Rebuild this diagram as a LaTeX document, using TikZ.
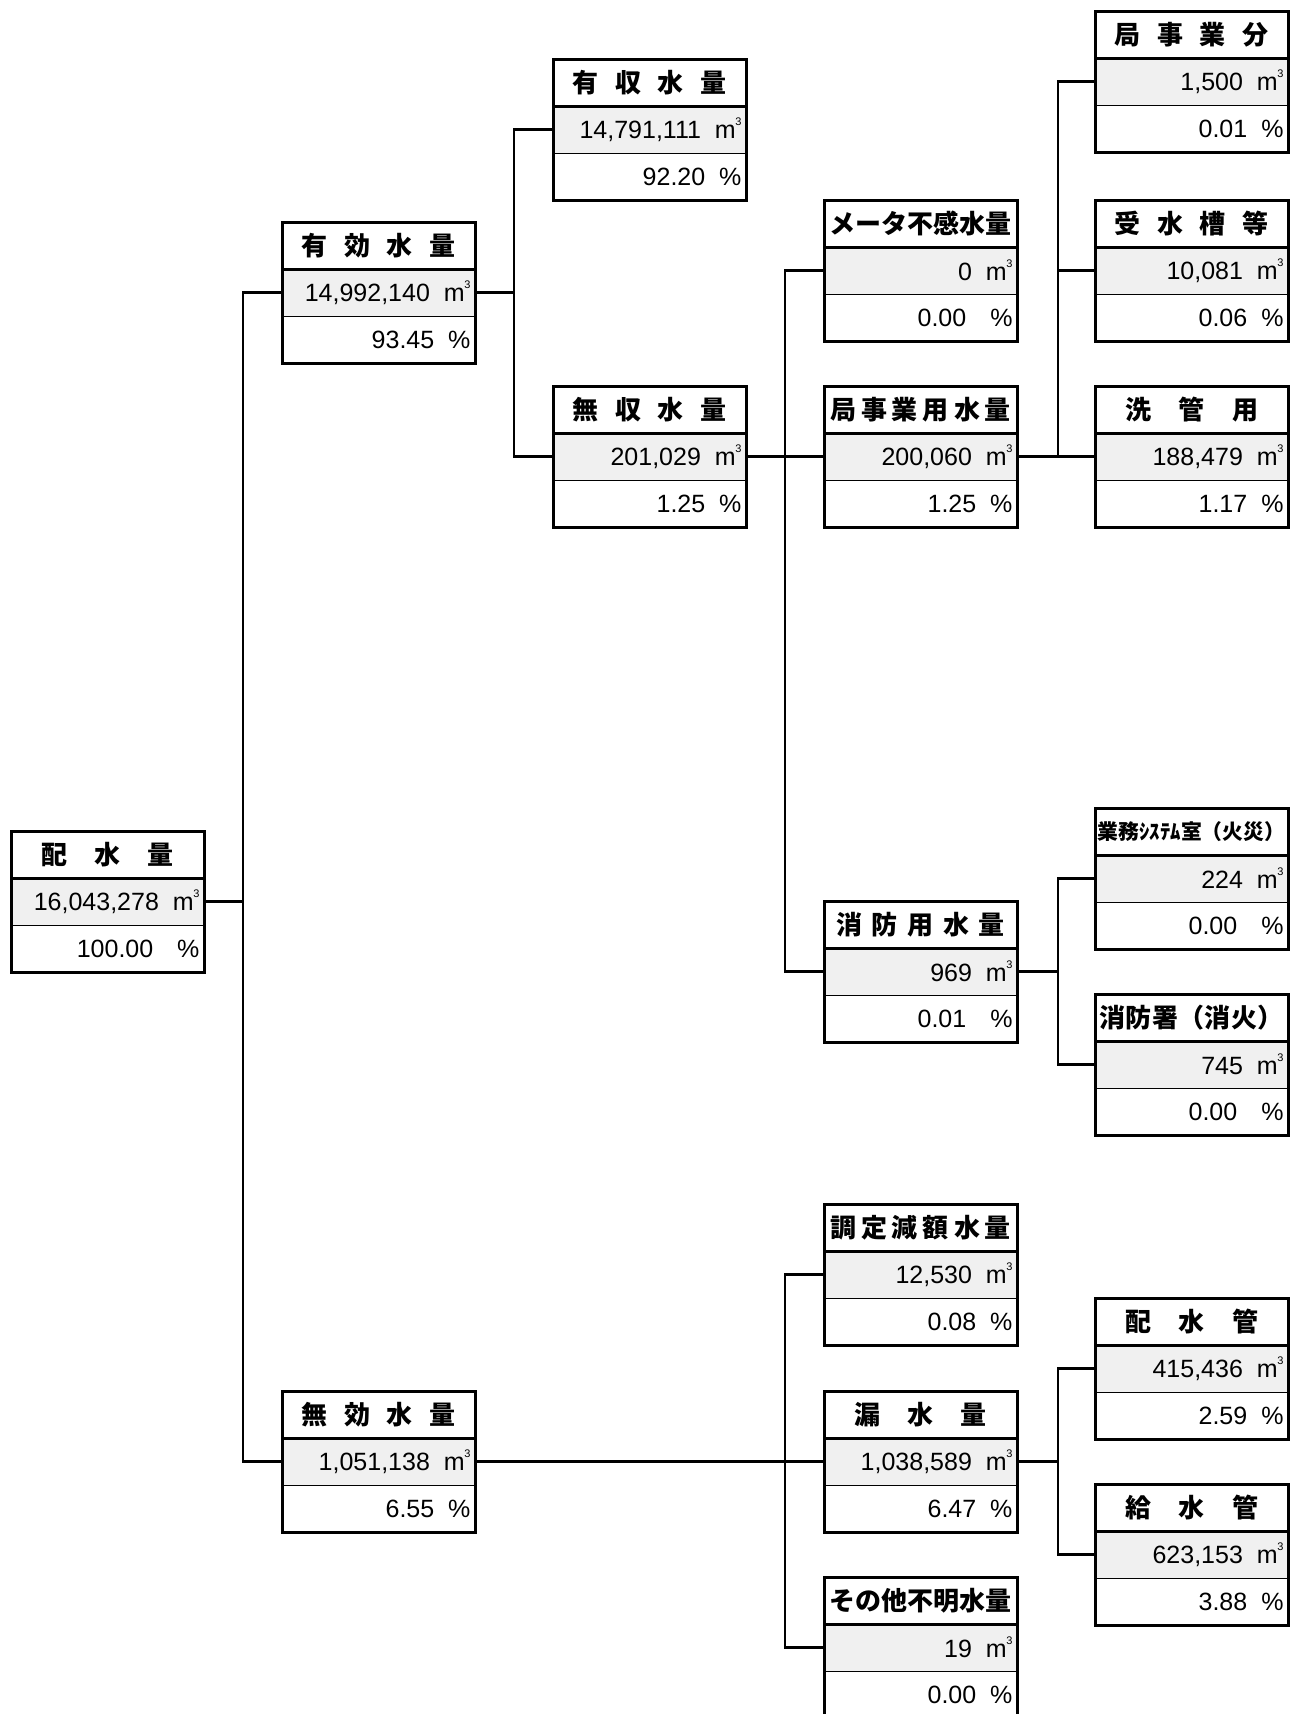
\documentclass[tikz,border=0pt]{standalone}
\usepackage{fontspec}
\setmainfont{Liberation Sans}
\newfontfamily\jpfont{Noto Sans CJK JP}
\usetikzlibrary{
    positioning
}

% one box: name, x, y, title, volume, percent
\newcommand{\waterbox}[6]{%
\node[ttl] (#1) at (#2,#3) {#4};
\node[val, below=0pt of #1] (#1-v) {#5\hspace{7pt}m\kern-0.2pt\raisebox{6.5pt}{\fontsize{5.5pt}{5.5pt}\selectfont 3}};
\node[pct, below=0pt of #1-v] (#1-p) {#6\hspace{7pt}\%\hspace{3pt}};
\draw[frame] (#1.north west) rectangle (#1-p.south east);
\draw[frame] (#1.south west) -- (#1.south east);
\draw[sep] (#1-v.south west) -- (#1-v.south east);
}

\begin{document}
\begin{tikzpicture}[
    x=0.5pt, y=-0.5pt,
    font=\fontsize{12.5pt}{14pt}\selectfont,
    cell/.style={
        minimum width=96.5pt,
        minimum height=23.5pt,
        inner sep=0pt,
        outer sep=0pt,
        anchor=north west
    },
    ttl/.style={
        cell,
        font=\jpfont\bfseries\fontsize{13pt}{15pt}\selectfont
    },
    val/.style={
        cell,
        fill=black!6,
        text width=92pt,
        inner xsep=2.25pt,
        align=right
    },
    pct/.style={
        cell,
        text width=92pt,
        inner xsep=2.25pt,
        align=right
    },
    frame/.style={line width=1.5pt},
    sep/.style={line width=0.5pt},
    link/.style={line width=1.2pt}
]

% Set bounding box to the page of the chart
\useasboundingbox (0,0) rectangle (1290,1714);

% ================= COLUMN 0 =================
\waterbox{haisui}{11}{831}{\makebox[66.5pt][s]{配\hfill 水\hfill 量}}{16,043,278}{100.00\hspace{5pt}}

% ================= COLUMN 1 =================
\waterbox{yuko}{282}{222}{\makebox[77pt][s]{有\hfill 効\hfill 水\hfill 量}}{14,992,140}{93.45}
\waterbox{muko}{282}{1391}{\makebox[77pt][s]{無\hfill 効\hfill 水\hfill 量}}{1,051,138}{6.55}

% ================= COLUMN 2 =================
\waterbox{yushu}{553}{59}{\makebox[77pt][s]{有\hfill 収\hfill 水\hfill 量}}{14,791,111}{92.20}
\waterbox{mushu}{553}{386}{\makebox[77pt][s]{無\hfill 収\hfill 水\hfill 量}}{201,029}{1.25}

% ================= COLUMN 3 =================
\waterbox{meter}{824}{200}{\makebox[91pt][s]{メ\hfill ー\hfill タ\hfill 不\hfill 感\hfill 水\hfill 量}}{0}{0.00\hspace{5pt}}
\waterbox{kyokuyo}{824}{386}{\makebox[90.5pt][s]{局\hfill 事\hfill 業\hfill 用\hfill 水\hfill 量}}{200,060}{1.25}
\waterbox{shobo}{824}{901}{\makebox[84pt][s]{消\hfill 防\hfill 用\hfill 水\hfill 量}}{969}{0.01\hspace{5pt}}
\waterbox{chotei}{824}{1204}{\makebox[90.5pt][s]{調\hfill 定\hfill 減\hfill 額\hfill 水\hfill 量}}{12,530}{0.08}
\waterbox{rosui}{824}{1391}{\makebox[66.5pt][s]{漏\hfill 水\hfill 量}}{1,038,589}{6.47}
\waterbox{sonota}{824}{1577}{\makebox[91pt][s]{そ\hfill の\hfill 他\hfill 不\hfill 明\hfill 水\hfill 量}}{19}{0.00}

% ================= COLUMN 4 =================
\waterbox{kyokubun}{1095}{11}{\makebox[77pt][s]{局\hfill 事\hfill 業\hfill 分}}{1,500}{0.01}
\waterbox{jusui}{1095}{200}{\makebox[77pt][s]{受\hfill 水\hfill 槽\hfill 等}}{10,081}{0.06}
\waterbox{senkan}{1095}{386}{\makebox[66.5pt][s]{洗\hfill 管\hfill 用}}{188,479}{1.17}
\waterbox{gyomu}{1095}{808}{\fontsize{10.4pt}{12pt}\selectfont 業務ｼｽﾃﾑ室（火災）}{224}{0.00\hspace{5pt}}
\waterbox{shobosho}{1095}{994}{\makebox[92pt][s]{消\hfill 防\hfill 署\hfill（消\hfill 火\hfill）}}{745}{0.00\hspace{5pt}}
\waterbox{haisuikan}{1095}{1298}{\makebox[66.5pt][s]{配\hfill 水\hfill 管}}{415,436}{2.59}
\waterbox{kyusuikan}{1095}{1484}{\makebox[66.5pt][s]{給\hfill 水\hfill 管}}{623,153}{3.88}

% ================= CONNECTORS =================
% ---- total
\draw[link] (yuko-v.west) -- ++(-39,0) |- (haisui-v.east);
\draw[link] (muko-v.west) -- ++(-39,0) |- (haisui-v.east);

% ---- effective
\draw[link] (yushu-v.west) -- ++(-39,0) |- (yuko-v.east);
\draw[link] (mushu-v.west) -- ++(-39,0) |- (yuko-v.east);

% ---- non-revenue
\draw[link] (meter-v.west) -- ++(-39,0) |- (mushu-v.east);
\draw[link] (kyokuyo-v.west) -- ++(-39,0) |- (mushu-v.east);
\draw[link] (shobo-v.west) -- ++(-39,0) |- (mushu-v.east);

% ---- ineffective
\draw[link] (chotei-v.west) -- ++(-39,0) |- (muko-v.east);
\draw[link] (rosui-v.west) -- ++(-39,0) |- (muko-v.east);
\draw[link] (sonota-v.west) -- ++(-39,0) |- (muko-v.east);

% ---- bureau use
\draw[link] (kyokubun-v.west) -- ++(-37,0) |- (kyokuyo-v.east);
\draw[link] (jusui-v.west) -- ++(-37,0) |- (kyokuyo-v.east);
\draw[link] (senkan-v.west) -- ++(-37,0) |- (kyokuyo-v.east);

% ---- fire use
\draw[link] (gyomu-v.west) -- ++(-37,0) |- (shobo-v.east);
\draw[link] (shobosho-v.west) -- ++(-37,0) |- (shobo-v.east);

% ---- leakage
\draw[link] (haisuikan-v.west) -- ++(-37,0) |- (rosui-v.east);
\draw[link] (kyusuikan-v.west) -- ++(-37,0) |- (rosui-v.east);

\end{tikzpicture}
\end{document}
